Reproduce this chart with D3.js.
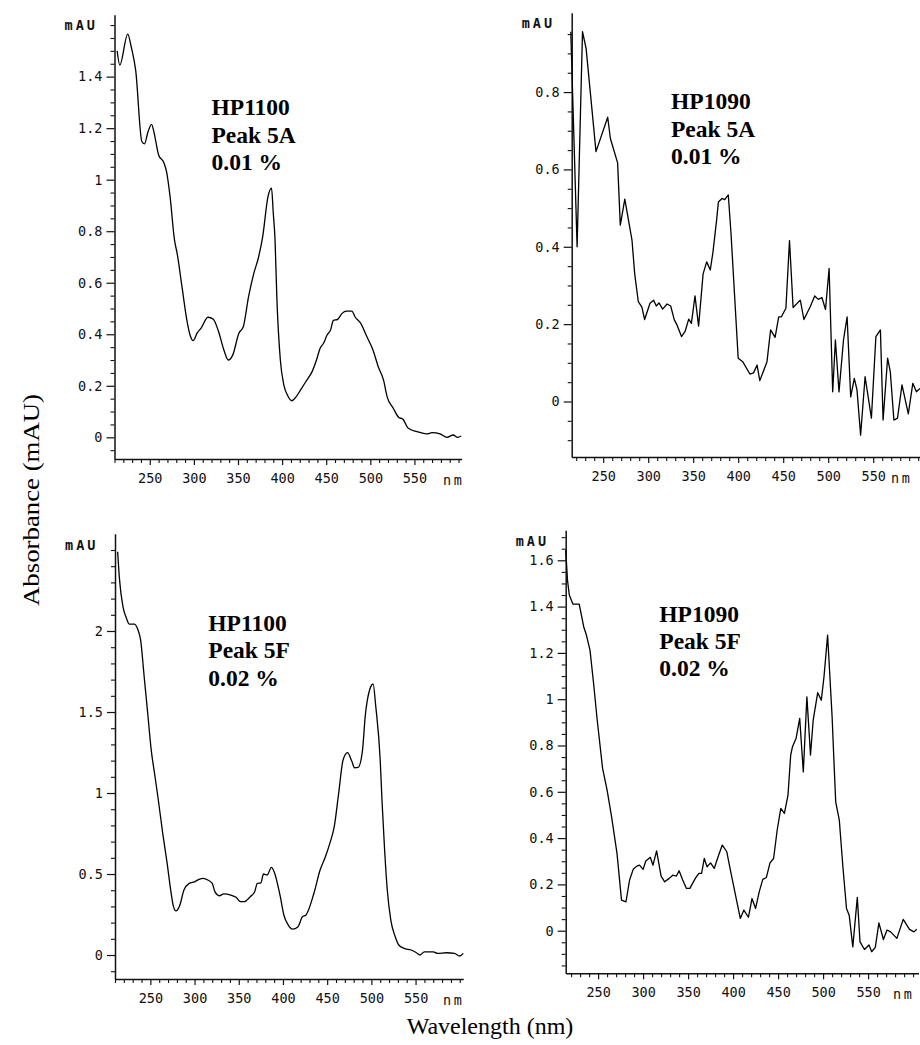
<!DOCTYPE html>
<html>
<head>
<meta charset="utf-8">
<script src="https://cdn.jsdelivr.net/npm/d3@7"></script>
<style>
  html, body { margin: 0; padding: 0; background: #fff; }
  svg { display: block; }
</style>
</head>
<body>
<svg id="chart" width="920" height="1045"></svg>
<script>
// ---------------- DATA ----------------
// Panel A: HP1100, Peak 5A, 0.01 %
const hp1100_5A_nm = [213,216,225,229,234,241,244,248,252,255,260,266,269,273,278,281,287,292,296,299,304,308,316,322,328,334,339,344,351,356,362,368,373,378,384,388,390,392,394,398,402,406,411,416,421,428,434,439,443,447,451,455,458,463,468,473,479,483,489,496,503,509,515,519,526,532,537,543,553,564,570,579,587,594,599,603];
const hp1100_5A_mAU = [1.50,1.445,1.565,1.515,1.425,1.148,1.139,1.186,1.215,1.18,1.096,1.066,1.031,0.934,0.766,0.714,0.572,0.455,0.393,0.375,0.406,0.423,0.466,0.458,0.41,0.339,0.30,0.319,0.404,0.429,0.546,0.637,0.695,0.779,0.934,0.967,0.87,0.766,0.546,0.30,0.203,0.164,0.142,0.158,0.184,0.222,0.255,0.30,0.345,0.365,0.397,0.417,0.453,0.458,0.481,0.49,0.49,0.466,0.443,0.391,0.339,0.274,0.222,0.158,0.113,0.078,0.07,0.035,0.022,0.013,0.018,0.013,0.0,0.009,0.0,0.005];

// Panel B: HP1090, Peak 5A, 0.01 %
const hp1090_5A_nm = [214,221,227,231,242,255,258,266,269,274,282,285,289,293,296,302,306,309,312,316,321,325,329,332,337,341,345,348,352,356,361,365,369,372,376,378,382,385,389,392,400,405,413,417,421,424,432,436,441,445,448,453,457,461,469,473,480,485,489,493,497,501,505,508,512,517,521,525,529,532,536,541,548,553,558,561,566,569,573,577,582,589,594,598,602];
const hp1090_5A_mAU = [0.956,0.40,0.956,0.913,0.646,0.735,0.68,0.617,0.456,0.523,0.417,0.33,0.258,0.244,0.212,0.254,0.262,0.247,0.255,0.239,0.252,0.247,0.211,0.198,0.168,0.181,0.213,0.202,0.273,0.195,0.33,0.361,0.34,0.387,0.469,0.516,0.525,0.522,0.534,0.435,0.112,0.103,0.071,0.074,0.094,0.054,0.103,0.185,0.166,0.219,0.219,0.241,0.416,0.243,0.262,0.212,0.245,0.273,0.264,0.269,0.238,0.344,0.025,0.159,0.025,0.159,0.219,0.012,0.06,0.03,-0.087,0.064,-0.043,0.168,0.185,-0.048,0.112,0.077,-0.048,-0.043,0.043,-0.032,0.047,0.025,0.034];

// Panel C: HP1100, Peak 5F, 0.02 %
const hp1100_5F_nm = [213,215,219,223,226,232,236,239,243,247,251,255,259,264,269,273,276,279,283,288,294,300,305,310,315,320,323,328,333,341,347,352,356,363,368,371,375,378,382,387,390,397,401,406,411,417,422,426,435,442,448,453,458,463,468,473,478,481,485,490,493,498,502,505,510,512,515,518,522,527,531,537,545,551,555,560,570,575,585,594,600,604];
const hp1100_5F_mAU = [2.489,2.325,2.15,2.078,2.043,2.042,2.006,1.944,1.718,1.492,1.265,1.111,0.957,0.751,0.566,0.401,0.302,0.272,0.302,0.401,0.442,0.452,0.467,0.473,0.463,0.442,0.391,0.366,0.377,0.37,0.356,0.329,0.329,0.36,0.391,0.442,0.446,0.50,0.494,0.541,0.514,0.36,0.247,0.185,0.16,0.175,0.236,0.247,0.381,0.525,0.607,0.689,0.792,0.998,1.204,1.249,1.194,1.156,1.158,1.265,1.471,1.636,1.673,1.533,1.204,0.957,0.648,0.401,0.216,0.113,0.062,0.041,0.031,0.014,0.0,0.02,0.02,0.01,0.014,0.01,-0.006,0.01];

// Panel D: HP1090, Peak 5F, 0.02 %
const hp1090_5F_nm = [214,216,218,222,229,234,237,241,245,249,255,260,265,271,276,281,285,289,293,296,300,303,308,311,315,320,324,329,333,337,340,344,348,352,358,362,365,368,371,375,379,384,388,393,397,400,408,412,417,421,425,429,433,437,441,445,449,453,457,461,464,466,470,474,478,482,486,489,494,498,501,505,510,512,514,518,522,526,529,533,538,541,546,551,554,558,562,567,571,575,582,589,596,601,604];
const hp1090_5F_mAU = [1.644,1.514,1.45,1.411,1.411,1.313,1.277,1.212,1.068,0.91,0.701,0.607,0.492,0.334,0.132,0.125,0.219,0.265,0.279,0.283,0.265,0.301,0.317,0.283,0.345,0.236,0.211,0.226,0.24,0.236,0.259,0.219,0.183,0.183,0.226,0.248,0.248,0.312,0.276,0.293,0.269,0.327,0.37,0.341,0.262,0.204,0.053,0.089,0.058,0.139,0.096,0.168,0.222,0.23,0.293,0.312,0.435,0.528,0.507,0.586,0.759,0.795,0.831,0.917,0.686,1.01,0.759,0.91,1.028,0.996,1.097,1.277,0.924,0.737,0.557,0.478,0.276,0.096,0.067,-0.07,0.144,-0.048,-0.081,-0.062,-0.091,-0.072,0.034,-0.038,0.003,-0.005,-0.033,0.049,0.006,-0.005,0.006];

// Tick labels
const xTickLabels = [250, 300, 350, 400, 450, 500, 550];
const yTicksA = [0, 0.2, 0.4, 0.6, 0.8, 1, 1.2, 1.4];
const yTicksB = [0, 0.2, 0.4, 0.6, 0.8];
const yTicksC = [0, 0.5, 1, 1.5, 2];
const yTicksD = [0, 0.2, 0.4, 0.6, 0.8, 1, 1.2, 1.4, 1.6];

// Annotation text
const titlesA = ["HP1100", "Peak 5A", "0.01 %"];
const titlesB = ["HP1090", "Peak 5A", "0.01 %"];
const titlesC = ["HP1100", "Peak 5F", "0.02 %"];
const titlesD = ["HP1090", "Peak 5F", "0.02 %"];

const yAxisTitle = "Absorbance (mAU)";
const xAxisTitle = "Wavelength (nm)";
const unitY = "mAU";
const unitX = "nm";

// ---------------- LAYOUT ----------------
const panels = [
  { nm: hp1100_5A_nm, v: hp1100_5A_mAU, yTicks: yTicksA, titles: titlesA,
    xDomain: [210, 603.6], xRange: [114.5, 461.7],
    yDomain: [-0.0842, 1.64], yRange: [459, 14.8], minorStep: 0.05, minorFrom: -0.05, minorTo: 1.6,
    mauY: 25, nmX: 443, titleX: 211.5, titleY: [115, 142.5, 170], curve: d3.curveMonotoneX },
  { nm: hp1090_5A_nm, v: hp1090_5A_mAU, yTicks: yTicksB, titles: titlesB,
    xDomain: [215, 603], xRange: [571.7, 920.9],
    yDomain: [-0.1435, 1.005], yRange: [457, 12.8], minorStep: 0.05, minorFrom: -0.1, minorTo: 0.95,
    mauY: 23, nmX: 891, titleX: 671, titleY: [109, 136.7, 164.3], curve: d3.curveLinear },
  { nm: hp1100_5F_nm, v: hp1100_5F_mAU, yTicks: yTicksC, titles: titlesC,
    xDomain: [210, 604], xRange: [115, 463.3],
    yDomain: [-0.148, 2.6], yRange: [979, 533.8], minorStep: 0.1, minorFrom: -0.1, minorTo: 2.5,
    mauY: 545, nmX: 443, titleX: 208.3, titleY: [630.7, 658.3, 685.7], curve: d3.curveMonotoneX },
  { nm: hp1090_5F_nm, v: hp1090_5F_mAU, yTicks: yTicksD, titles: titlesD,
    xDomain: [214, 606], xRange: [565.7, 918.5],
    yDomain: [-0.184, 1.73], yRange: [973.3, 530.2], minorStep: 0.05, minorFrom: -0.15, minorTo: 1.7,
    mauY: 541.5, nmX: 893, titleX: 659.3, titleY: [621.7, 649, 676], curve: d3.curveLinear }
];

const MONO = "'DejaVu Sans Mono', 'Liberation Mono', monospace";
const SERIF = "'Liberation Serif', 'Times New Roman', serif";

const svg = d3.select("#chart");
svg.append("rect").attr("width", 920).attr("height", 1045).attr("fill", "#fff");

panels.forEach(p => {
  const x = d3.scaleLinear().domain(p.xDomain).range(p.xRange);
  const y = d3.scaleLinear().domain(p.yDomain).range(p.yRange);
  const x0 = p.xRange[0], yb = p.yRange[0];
  const g = svg.append("g");

  // minor y ticks
  const nMinor = Math.round((p.minorTo - p.minorFrom) / p.minorStep);
  const yMinor = d3.range(nMinor + 1).map(i => +(p.minorFrom + i * p.minorStep).toFixed(3))
    .filter(v => !p.yTicks.some(t => Math.abs(t - v) < 1e-6));
  g.append("g").attr("transform", `translate(${x0},0)`)
    .call(d3.axisLeft(y).tickValues(yMinor).tickSize(4).tickSizeOuter(0).tickFormat(""))
    .call(a => a.select(".domain").remove())
    .call(a => a.selectAll("line").attr("stroke", "#111").attr("stroke-width", 1.1));

  // major y ticks + domain
  g.append("g").attr("transform", `translate(${x0},0)`)
    .call(d3.axisLeft(y).tickValues(p.yTicks).tickSize(8).tickSizeOuter(0).tickPadding(4)
      .tickFormat(d => String(d)))
    .call(a => a.select(".domain").attr("stroke", "#111").attr("stroke-width", 1.5))
    .call(a => a.selectAll("line").attr("stroke", "#111").attr("stroke-width", 1.2))
    .call(a => a.selectAll("text").attr("font-family", MONO).attr("font-size", 13.5).attr("fill", "#111"));

  // minor x ticks
  const xMinor = d3.range(Math.ceil(p.xDomain[0] / 10) * 10, p.xDomain[1] + 0.01, 10)
    .filter(v => !xTickLabels.includes(v));
  g.append("g").attr("transform", `translate(0,${yb})`)
    .call(d3.axisBottom(x).tickValues(xMinor).tickSize(4).tickSizeOuter(0).tickFormat(""))
    .call(a => a.select(".domain").remove())
    .call(a => a.selectAll("line").attr("stroke", "#111").attr("stroke-width", 1.1));

  // major x ticks + domain
  g.append("g").attr("transform", `translate(0,${yb})`)
    .call(d3.axisBottom(x).tickValues(xTickLabels).tickSize(6).tickSizeOuter(0).tickPadding(8)
      .tickFormat(d => String(d)))
    .call(a => a.select(".domain").attr("stroke", "#111").attr("stroke-width", 1.5))
    .call(a => a.selectAll("line").attr("stroke", "#111").attr("stroke-width", 1.2))
    .call(a => a.selectAll("text").attr("font-family", MONO).attr("font-size", 13.5).attr("fill", "#111"));

  // unit labels
  g.append("text").attr("x", x0 - 50).attr("y", p.mauY).attr("dy", "0.35em")
    .attr("font-family", MONO).attr("font-size", 13.5).attr("font-weight", "bold")
    .attr("letter-spacing", 3).attr("fill", "#111").text(unitY);
  g.append("text").attr("x", p.nmX).attr("y", yb + 26)
    .attr("font-family", MONO).attr("font-size", 13.5).attr("letter-spacing", 2.5)
    .attr("fill", "#111").text(unitX);

  // curve
  const line = d3.line().x((d, i) => x(p.nm[i])).y(d => y(d)).curve(p.curve);
  g.append("path").datum(p.v).attr("d", line)
    .attr("fill", "none").attr("stroke", "#000").attr("stroke-width", 1.3)
    .attr("stroke-linejoin", "round");

  // annotation
  p.titles.forEach((t, i) => {
    g.append("text").attr("x", p.titleX).attr("y", p.titleY[i])
      .attr("font-family", SERIF).attr("font-weight", "bold").attr("font-size", 23.5)
      .attr("fill", "#000").text(t);
  });
});

// shared axis titles
svg.append("text")
  .attr("transform", "translate(39,500) rotate(-90)")
  .attr("text-anchor", "middle")
  .attr("font-family", SERIF).attr("font-size", 24)
  .attr("textLength", 212).attr("lengthAdjust", "spacingAndGlyphs")
  .attr("fill", "#000").text(yAxisTitle);

svg.append("text")
  .attr("x", 490).attr("y", 1034)
  .attr("text-anchor", "middle")
  .attr("font-family", SERIF).attr("font-size", 24)
  .attr("fill", "#000").text(xAxisTitle);
</script>
</body>
</html>
